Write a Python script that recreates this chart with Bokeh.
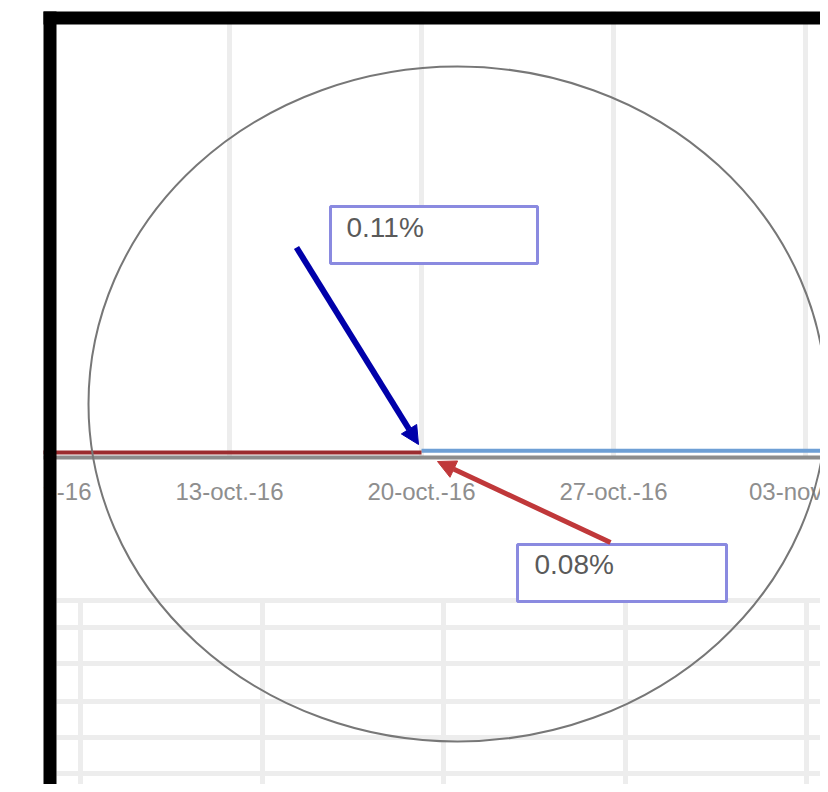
import pandas as pd
from bokeh.plotting import figure
from bokeh.models import Range1d, LinearAxis, FixedTicker, Arrow, NormalHead
from bokeh.embed import file_html
from bokeh.resources import INLINE
from bokeh.core.properties import value

# ---------------- data ----------------
red_dates = ["2016-09-29", "2016-10-06", "2016-10-13", "2016-10-20"]
red_values = [0.08, 0.08, 0.08, 0.08]
blue_dates = ["2016-10-20", "2016-10-27", "2016-11-03", "2016-11-10"]
blue_values = [0.11, 0.11, 0.11, 0.11]
tick_dates = ["2016-10-06", "2016-10-13", "2016-10-20", "2016-10-27", "2016-11-03"]
tick_labels = ["06-oct.-16", "13-oct.-16", "20-oct.-16", "27-oct.-16", "03-nov.-16"]
callout_labels = [f"{blue_values[-1]:.2f}%", f"{red_values[-1]:.2f}%"]


def ms(d):
    return int(pd.Timestamp(d).value // 1_000_000)


# ---------------- geometry (picture pixels) ----------------
W, H = 820, 784
X0, Y0 = 0, 0
X1, Y1 = X0 + W, Y0 + H
DAY = 86_400_000
px_per_week = 192.0
ms_per_px = 7 * DAY / px_per_week
x_anchor_px = 421.0
x_anchor = ms("2016-10-20")
y_zero_px = 456.5
px_per_pct = 57.0

x_start = x_anchor - (x_anchor_px - X0) * ms_per_px
x_end = x_anchor + (X1 - x_anchor_px) * ms_per_px
y_start = -(Y1 - y_zero_px) / px_per_pct
y_end = (y_zero_px - Y0) / px_per_pct

p = figure(width=W, height=H, output_backend="svg", toolbar_location=None,
           x_range=Range1d(x_start, x_end), y_range=Range1d(y_start, y_end),
           x_axis_location=None, y_axis_location=None, min_border=0,
           outline_line_color=None, background_fill_color="white",
           border_fill_color="white")
p.grid.grid_line_color = None
p.extra_x_ranges = {"px": Range1d(X0, X1)}
p.extra_y_ranges = {"px": Range1d(Y1, Y0)}
PX = dict(x_range_name="px", y_range_name="px")

tick_ms = [ms(d) for d in tick_dates]

# chart vertical gridlines (down to the axis)
p.segment(x0=tick_ms, y0=[0] * len(tick_ms), x1=tick_ms, y1=[y_end] * len(tick_ms),
          line_color="#ededed", line_width=5)

# spreadsheet cell grid below the chart
sheet_rows = [600, 627, 663, 701, 737, 773]
sheet_cols = [80, 262, 443, 625, 806]
p.segment(x0=[56] * len(sheet_rows), y0=sheet_rows, x1=[X1] * len(sheet_rows), y1=sheet_rows,
          line_color="#ededed", line_width=5, **PX)
p.segment(x0=sheet_cols, y0=[600] * len(sheet_cols), x1=sheet_cols, y1=[Y1] * len(sheet_cols),
          line_color="#ededed", line_width=5, **PX)

# series
p.line(x=[ms(d) for d in blue_dates], y=blue_values, line_color="#6e9fd5", line_width=4)
p.line(x=[ms(d) for d in red_dates], y=red_values, line_color="#9b2c2f", line_width=4)

# horizontal date axis line (labels drawn as text glyphs so they clip at the frame)
ax = LinearAxis(fixed_location=0, ticker=FixedTicker(ticks=[]),
                axis_line_color="#8c8c8c", axis_line_width=4,
                major_tick_line_color=None, minor_tick_line_color=None,
                major_tick_out=0, major_tick_in=0)
p.add_layout(ax, "below")
p.text(x=tick_ms, y=[491] * len(tick_ms), text=tick_labels, text_align="center",
       text_baseline="middle", text_font_size="24px", text_color="#8e8e8e",
       text_font=value("Liberation Sans"), y_range_name="px")

# callout boxes
p.quad(left=[330, 517], right=[537, 726], top=[206, 544], bottom=[263, 601],
       fill_color="white", line_color="#8a8ae0", line_width=3, **PX)
p.text(x=[346, 534], y=[227, 564], text=callout_labels, text_align="left",
       text_baseline="middle", text_font_size="28px", text_color="#5a5a5a",
       text_font=value("Liberation Sans"), **PX)

# arrows
p.add_layout(Arrow(end=NormalHead(size=18, fill_color="#0000aa", line_color="#0000aa"),
                   x_start=296, y_start=247, x_end=418, y_end=444,
                   line_color="#0000aa", line_width=6, **PX))
p.add_layout(Arrow(end=NormalHead(size=18, fill_color="#c0383a", line_color="#c0383a"),
                   x_start=610, y_start=542, x_end=437, y_end=461,
                   line_color="#c0383a", line_width=5, **PX))

# circle annotation
p.ellipse(x=[457], y=[403.5], width=[738], height=[675], fill_color=None,
          line_color="#777777", line_width=2, level="overlay", **PX)

# white margin and black frame
p.quad(left=[X0 - 5, X0 - 5], right=[43, X1], top=[Y0 - 5, Y0 - 5], bottom=[Y1, 11],
       fill_color="white", line_color=None, level="overlay", **PX)
p.quad(left=[43, 43], right=[56, X1], top=[11, 11], bottom=[Y1, 24],
       fill_color="black", line_color=None, level="overlay", **PX)

open("out.html", "w").write(file_html(p, INLINE))
